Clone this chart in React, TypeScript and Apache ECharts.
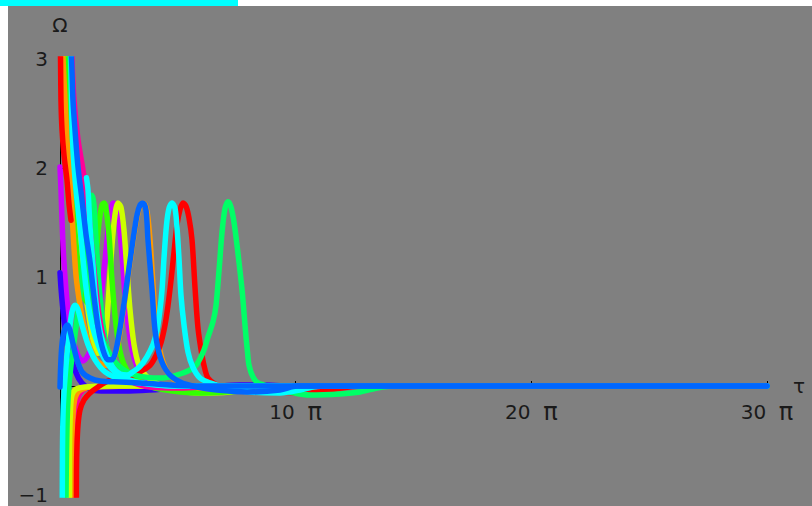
import React, { useEffect, useRef } from "react";
import * as echarts from "echarts";

const PI = Math.PI;
const X_MAX = 30 * PI;
const X_TICK_STEP = 10 * PI;
const X_TICK_MULTIPLES = [10, 20, 30]; // labels at n·π
const Y_MIN = -1;
const Y_MAX = 3;

// Each curve: [tau, Omega] pairs
const violetCurve = [[0,2.01],[0.13,1.8],[0.27,1.52],[0.47,1.2],[0.8,0.88],[1.2,0.62],[1.73,0.42],[2.4,0.28],[3.07,0.23],[3.73,0.28],[4.4,0.39],[5.07,0.61],[5.73,0.97],[6.27,1.34],[6.67,1.59],[7.07,1.68],[7.47,1.66],[7.87,1.5],[8.27,1.2],[8.67,0.83],[9.2,0.5],[9.87,0.26],[10.8,0.12],[12.4,0.037],[16,-0.009],[21.33,0],[94.25,0]];
const magentaLow = [[1.85,-1.2],[1.87,-0.59],[2.07,-0.27],[2.4,-0.11],[3.07,-0.037],[4.27,-0.009],[9.33,0],[94.25,0]];
const blueCurve = [[0,1.04],[0.13,0.9],[0.33,0.74],[0.6,0.56],[0.93,0.39],[1.33,0.28],[1.87,0.17],[2.53,0.064],[3.33,0],[4.4,-0.037],[6,-0.046],[8.67,-0.046],[12,-0.037],[16,-0.018],[20,-0.009],[24,0.009],[26.67,0.009],[30.67,0],[94.25,0]];
const yellowTop = [[0.67,3.3],[0.8,3.0],[1.07,2.62],[1.47,2.26],[2.0,1.84],[2.67,1.34],[3.47,0.83],[4.27,0.47],[4.93,0.3],[5.6,0.31],[6.13,0.51],[6.53,0.88],[6.93,1.29],[7.33,1.57],[7.73,1.68],[8.13,1.64],[8.53,1.43],[8.93,1.06],[9.33,0.7],[9.87,0.38],[10.53,0.19],[11.47,0.092],[13.07,0.018],[15.33,-0.037],[18.67,-0.064],[22.67,-0.055],[26.67,-0.018],[30.67,0],[94.25,0]];
const greenPeak = [[0.93,3.3],[1.2,2.62],[1.47,2.07],[1.87,1.52],[2.27,1.2],[2.67,0.97],[3.2,0.81],[3.73,0.76],[4.27,0.9],[4.8,1.2],[5.2,1.5],[5.6,1.66],[5.87,1.68],[6.13,1.63],[6.53,1.39],[6.93,0.97],[7.47,0.56],[8.13,0.28],[9.07,0.13],[10.67,0.037],[13.33,-0.028],[18.67,-0.064],[24,-0.046],[28,-0.018],[32,0],[94.25,0]];
const orangeLow = [[1.58,-1.2],[1.6,-0.59],[1.73,-0.27],[2.0,-0.11],[2.53,-0.046],[3.47,-0.018],[5.33,-0.009],[9.33,0],[94.25,0]];
const yellowLow = [[1.25,-1.2],[1.27,-0.59],[1.4,-0.22],[1.6,-0.083],[2.13,-0.028],[3.33,-0.009],[6.67,0],[94.25,0]];
const springLow = [[0.78,-1.2],[0.87,-0.59],[1.0,-0.22],[1.2,0.009],[1.47,0.19],[2.0,0.47],[2.67,0.83],[3.2,1.2],[3.6,1.54],[3.93,1.72],[4.27,1.75],[4.53,1.66],[4.8,1.34],[5.2,0.93],[5.73,0.56],[6.4,0.31],[7.33,0.17],[8.67,0.073],[10.67,0.018],[14.67,-0.009],[20,0],[94.25,0]];
const orangeTop = [[0.27,3.3],[0.4,3.0],[0.67,2.62],[0.93,2.26],[1.2,2.03],[1.47,1.75],[1.73,1.43],[2.13,1.02],[2.67,0.74],[3.33,0.51],[4.13,0.33],[5.07,0.22],[6.13,0.19],[6.67,0.2],[7.47,0.31],[8.4,0.68],[9.07,1.0],[9.73,1.32],[10.27,1.55],[10.67,1.65],[11.13,1.68],[11.6,1.6],[12.0,1.34],[12.4,0.93],[12.8,0.56],[13.47,0.28],[14.4,0.12],[16,0.028],[18.67,-0.018],[24,-0.037],[29.33,-0.018],[34.67,0],[94.25,0]];
const redTop = [[0.0,3.3],[0.07,3.0],[0.13,2.62],[0.27,2.35],[0.53,2.12],[0.93,1.89],[1.2,1.67],[1.47,1.52]];
const redMain = [[2.18,-1.2],[2.2,-0.77],[2.27,-0.54],[2.4,-0.36],[2.67,-0.22],[3.2,-0.128],[4.0,-0.064],[5.07,-0.009],[6.4,0.046],[8.0,0.073],[9.6,0.092],[10.93,0.14],[12.0,0.19],[12.8,0.28],[13.47,0.4],[14.0,0.56],[14.4,0.74],[14.8,0.97],[15.2,1.23],[15.6,1.48],[16.0,1.62],[16.4,1.68],[16.8,1.65],[17.2,1.54],[17.6,1.34],[18.0,0.9],[18.4,0.53],[18.93,0.28],[19.33,0.15],[19.73,0.073],[20.67,0.018],[22,-0.018],[25.33,-0.037],[29.33,-0.055],[33.33,-0.064],[36.67,-0.028],[40,0],[94.25,0]];
const magentaTop = [[1.55,3.3],[1.6,3.0],[1.87,2.62],[2.4,2.26],[3.07,1.98],[3.6,1.71],[4.13,1.34],[4.67,0.97],[5.2,0.65],[5.87,0.42],[6.67,0.26],[7.73,0.14],[9.33,0.046],[12,-0.009],[16,-0.018],[21.33,0],[94.25,0]];
const springFar = [[1.2,3.3],[1.6,2.62],[2.13,2.07],[2.8,1.52],[3.6,1.06],[4.67,0.65],[6.0,0.38],[7.73,0.19],[10.0,0.1],[13.33,0.073],[16.0,0.11],[18.0,0.18],[19.07,0.31],[19.73,0.45],[20.4,0.59],[20.8,0.74],[21.2,1.06],[21.6,1.41],[22.0,1.63],[22.4,1.69],[22.8,1.64],[23.2,1.5],[23.6,1.29],[24.27,0.88],[24.6,0.61],[24.8,0.45],[25.0,0.31],[25.2,0.19],[25.73,0.083],[26.4,0.028],[28.67,-0.018],[30.67,-0.055],[33.33,-0.083],[37.33,-0.073],[40,-0.055],[42.27,-0.018],[44.67,0],[94.25,0]];
const cyanTop = [[1.4,3.3],[1.47,3.0],[1.53,2.62],[1.67,2.26],[1.93,1.96],[2.27,1.71],[2.67,1.46],[3.07,1.16],[3.6,0.83],[4.27,0.56],[5.07,0.38],[6,0.24],[7.33,0.13],[9.33,0.055],[12,0.018],[16,0],[94.25,0]];
const cyanLow = [[0.3,-1.2],[0.33,-0.6],[0.42,-0.22],[0.6,0.009],[0.87,0.24],[1.2,0.47],[1.6,0.68],[2.0,0.74],[2.4,0.7],[2.93,0.56],[3.73,0.38],[4.67,0.24],[6,0.13],[8,0.064],[10.67,0.028],[14.67,0],[94.25,0]];
const cyanPeak = [[3.53,1.91],[3.73,1.8],[4.0,1.46],[4.4,1.11],[4.67,0.85],[5.07,0.61],[5.6,0.42],[6.27,0.28],[7.07,0.17],[8.0,0.11],[8.93,0.1],[9.73,0.13],[10.67,0.18],[11.6,0.27],[12.4,0.38],[12.93,0.51],[13.33,0.7],[13.6,0.88],[13.87,1.18],[14.2,1.48],[14.53,1.63],[14.93,1.68],[15.33,1.63],[15.6,1.45],[15.87,1.16],[16.13,0.83],[16.53,0.56],[17.07,0.31],[17.73,0.17],[18.67,0.073],[20,0.028],[22.27,-0.018],[25.33,-0.055],[29.33,-0.064],[32,-0.037],[34.67,0],[94.25,0]];
const azureLow = [[0,-0.009],[0.07,0.15],[0.2,0.33],[0.4,0.46],[0.67,0.53],[1.0,0.56],[1.33,0.51],[1.73,0.39],[2.27,0.24],[2.93,0.13],[4,0.073],[5.33,0.046],[8,0.037],[10.67,0.028],[14.67,0.009],[18.67,0],[94.25,0]];
const azureMain = [[1.2,3.3],[1.53,3.0],[1.73,2.62],[2.0,2.35],[2.4,2.01],[2.93,1.71],[3.47,1.39],[4.0,1.14],[4.53,0.82],[5.07,0.54],[5.73,0.33],[6.4,0.24],[6.93,0.24],[7.47,0.33],[8.4,0.7],[9.07,1.02],[9.73,1.34],[10.27,1.57],[10.67,1.66],[11.07,1.68],[11.47,1.61],[11.73,1.34],[12.27,0.88],[12.67,0.51],[13.33,0.27],[14.4,0.12],[16,0.037],[18.27,-0.009],[20.93,-0.037],[24.93,-0.055],[29.33,-0.037],[31.6,0],[94.25,0]];

const curves = [
  { name: "violet", color: "#cc00ff", data: violetCurve },
  { name: "magentaLow", color: "#ff0099", data: magentaLow },
  { name: "blue", color: "#3300ff", data: blueCurve },
  { name: "yellowTop", color: "#ccff00", data: yellowTop },
  { name: "green", color: "#33ff00", data: greenPeak },
  { name: "orangeLow", color: "#ff9900", data: orangeLow },
  { name: "yellowLow", color: "#ccff00", data: yellowLow },
  { name: "springLow", color: "#00ff66", data: springLow },
  { name: "orangeTop", color: "#ff9900", data: orangeTop },
  { name: "redTop", color: "#ff0000", data: redTop },
  { name: "redMain", color: "#ff0000", data: redMain },
  { name: "magentaTop", color: "#ff0099", data: magentaTop },
  { name: "springFar", color: "#00ff66", data: springFar },
  { name: "cyanTop", color: "#00ffff", data: cyanTop },
  { name: "cyanLow", color: "#00ffff", data: cyanLow },
  { name: "cyanPeak", color: "#00ffff", data: cyanPeak },
  { name: "azureLow", color: "#0066ff", data: azureLow },
  { name: "azureMain", color: "#0066ff", data: azureMain },
];

const FONT = "DejaVu Sans";
const TEXT_COLOR = "#1a1a1a";

export default function App() {
  const ref = useRef<HTMLDivElement>(null);
  useEffect(() => {
    if (!ref.current) return;
    const chart = echarts.init(ref.current, undefined, { renderer: "svg" });
    chart.setOption({
      animation: false,
      backgroundColor: "#808080",
      grid: { left: 52, top: 53, right: 45, bottom: 11, containLabel: false, outerBoundsMode: "none" },
      xAxis: {
        type: "value",
        min: 0,
        max: X_MAX,
        interval: X_TICK_STEP,
        name: "τ",
        nameLocation: "end",
        nameGap: 26,
        nameTextStyle: { fontFamily: FONT, fontSize: 20, color: TEXT_COLOR },
        axisLine: { show: true, onZero: true, lineStyle: { color: "#000", width: 1 } },
        axisTick: { show: true, inside: true, length: 5, lineStyle: { color: "#000" } },
        minorTick: { show: true, splitNumber: 5, length: 3, lineStyle: { color: "#000" } },
        splitLine: { show: false },
        axisLabel: { show: false },
      },
      yAxis: {
        type: "value",
        min: Y_MIN,
        max: Y_MAX,
        interval: 1,
        name: "Ω",
        nameLocation: "end",
        nameGap: 24,
        nameTextStyle: { fontFamily: FONT, fontSize: 20, color: TEXT_COLOR },
        axisLine: { show: true, onZero: true, lineStyle: { color: "#000", width: 1 } },
        axisTick: { show: true, inside: true, length: 5, lineStyle: { color: "#000" } },
        splitLine: { show: false },
        axisLabel: {
          margin: 12,
          fontFamily: FONT,
          fontSize: 20,
          color: TEXT_COLOR,
          formatter: (v: number) => (v === 0 ? "" : v < 0 ? "\u2212" + Math.abs(v) : String(v)),
        },
      },
      series: curves.map((c) => ({
        name: c.name,
        type: "line",
        data: c.data,
        showSymbol: false,
        symbol: "none",
        smooth: 0.3,
        clip: true,
        silent: true,
        lineStyle: { color: c.color, width: 5.5, cap: "round", join: "round" },
      })),
    });
    // x tick labels placed under the on-zero x axis, positioned through the chart's own scale
    const labels = X_TICK_MULTIPLES.map((n) => {
      const p = chart.convertToPixel({ gridIndex: 0 }, [n * PI, 0]) as number[];
      return {
        type: "text",
        x: p[0],
        y: p[1] + 14,
        silent: true,
        style: {
          text: `{n|${n}}  {p|π}`,
          fontFamily: FONT,
          fontSize: 20,
          fill: TEXT_COLOR,
          align: "center",
          verticalAlign: "top",
          rich: {
            n: { fontFamily: FONT, fontSize: 20, fill: TEXT_COLOR },
            p: { fontFamily: FONT, fontSize: 24, fill: TEXT_COLOR },
          },
        },
      };
    });
    chart.setOption({ graphic: labels });
    return () => chart.dispose();
  }, []);
  return (
    <div style={{ position: "absolute", left: 0, top: 0, width: 812, height: 506, background: "#ffffff", overflow: "hidden" }}>
      <div style={{ position: "absolute", left: 0, top: 0, width: 238, height: 6, background: "#00ffff" }} />
      <div ref={ref} style={{ position: "absolute", left: 8, top: 6, width: 804, height: 500 }} />
    </div>
  );
}
